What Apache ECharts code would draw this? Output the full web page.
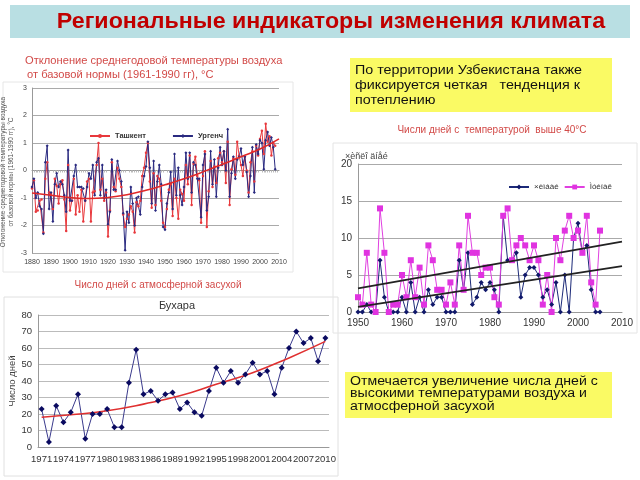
<!DOCTYPE html>
<html><head><meta charset="utf-8">
<script src="https://cdn.jsdelivr.net/npm/echarts@6/dist/echarts.min.js"></script>
<style>html,body{margin:0;padding:0;background:#fff}#c{width:640px;height:480px}</style>
</head><body><div id="c"></div>
<script>
// ---- Chart 1: temperature anomaly (1880-2008)
const tempStartYear = 1880;
const tashkent = [-0.65,-0.35,-1.5,-1.45,-1.1,-1.05,-2.25,-0.3,0.3,-0.8,
 -0.85,-1.4,-0.3,-0.55,-1.2,-0.5,-0.35,-1.05,-2.2,0.2,
 -1.45,-1.1,-0.3,-1.6,-0.9,-1.5,-0.7,-1.85,-1.1,-0.4,
 -0.3,-1.85,-0.8,-0.75,0.2,1.0,-0.7,-0.3,-1.1,-0.8,
 -2.4,-1.45,0.3,-0.6,-0.75,0.1,-0.3,-0.6,-1.6,-2.05,
 -1.75,-1.6,-1.3,-1.5,-2.25,-1.15,-1.3,-1.1,-0.2,0.1,
 0.65,1.0,-0.4,-1.35,-0.1,-1.25,-0.2,-0.3,-1.1,-1.9,
 -2.05,-1.4,-0.7,-0.5,-1.65,-0.3,-1.0,-1.75,-0.7,-0.85,
 -1.1,0.2,-0.5,0.55,-1.25,0.25,0.5,-0.2,-0.35,-1.9,
 -0.2,0.7,-2.05,-0.75,0.35,-0.6,0.15,-0.45,0.45,0.65,
 0.3,0.7,-0.45,1.05,-1.25,0.05,0.45,-0.15,1.05,0.55,
 0.2,-0.2,0.5,0.0,-0.8,0.3,0.7,-0.4,0.9,0.55,
 1.15,1.45,0.6,1.7,1.05,1.25,0.55,1.0,0.9];
const urgench = [-0.6,-0.3,-1.0,-0.8,-1.3,-1.4,-2.3,0.3,0.9,-1.4,
 -0.8,-1.85,-0.5,-0.1,-0.6,-0.4,-0.5,-0.9,-1.5,0.75,
 -1.1,-1.1,-0.2,0.2,-0.6,-0.6,-0.6,-0.65,-1.1,-0.6,
 -0.1,-0.3,0.2,-0.9,0.3,0.45,-0.9,0.2,-1.0,-0.7,
 -1.95,-1.5,0.4,-0.7,-0.7,0.35,0.0,-0.4,-1.55,-2.9,
 -1.5,-1.9,-0.6,-1.2,-2.0,-1.0,-0.95,-1.6,-0.6,-0.2,
 0.15,1.05,0.1,-1.2,0.35,-1.45,-0.4,0.2,-0.5,-2.05,
 -2.15,-1.2,-0.8,-0.05,-1.4,0.6,-0.9,0.1,-0.9,-1.25,
 -0.6,0.65,-0.3,0.65,-0.8,0.3,0.2,-0.3,-0.3,-1.7,
 0.2,0.6,-1.45,-0.95,0.7,-0.5,0.4,-0.95,0.1,0.85,
 0.2,0.7,0.0,1.5,-0.95,-0.1,0.5,-0.3,0.4,0.5,
 0.8,0.2,0.5,-0.05,-0.95,-0.2,0.85,-0.8,0.95,0.6,
 1.1,1.0,0.05,1.1,1.4,0.9,1.2,0.85,0.05];
const tempTrendYears = [1880,1890,1900,1910,1920,1930,1940,1950,1960,1970,1980,1990,2000,2010];
const tempTrendVals  = [-0.82,-0.9,-0.98,-1.02,-0.98,-0.88,-0.72,-0.52,-0.3,-0.05,0.22,0.5,0.78,1.15];

// ---- Chart 2: Bukhara, number of drought days
const bukharaYears = ['1971','1972','1973','1974','1975','1976','1977','1978','1979','1980','1981','1982','1983','1984','1985','1986','1987','1988','1989','1990','1991','1992','1993','1994','1995','1996','1997','1998','1999','2000','2001','2002','2003','2004','2005','2006','2007','2008','2009','2010'];
const bukharaDays = [23,3,25,15,21,32,5,20,20,23,12,12,39,59,32,34,28,32,33,23,27,21,19,34,48,39,46,39,44,51,44,46,32,48,60,70,63,66,52,66];
const bukharaTrendIdx = [0,4,9,14,19,24,29,34,39];
const bukharaTrendVals = [18,19.5,22,26,31,38,45,54,64];

// ---- Chart 3: days above 40°C (1950-2005)
const hotStartYear = 1950;
const chimbay = [0,0,1,0,0,7,2,0,0,0,2,0,4,0,2,0,3,1,2,2,0,0,0,7,3,8,1,2,4,3,4,3,0,13,7,7,8,2,5,6,6,5,2,3,1,4,0,5,0,10,12,8,9,3,0,0];
const muynak  = [2,1,8,1,0,14,8,0,1,1,5,2,7,2,6,1,9,7,3,3,1,4,1,9,3,13,8,8,5,6,6,2,1,13,14,7,9,10,9,7,9,7,1,5,0,10,7,11,13,10,11,8,13,4,1,11];
const hotTrendYears = [1950,2010];
const chimbayTrend = [0.7,6.2];
const muynakTrend = [3.2,9.5];

const pairs = (start, arr) => arr.map((v,i)=>[start+i, v]);
const zip = (xs, ys) => xs.map((x,i)=>[x, ys[i]]);
const plain = v => String(v);

const chart = echarts.init(document.getElementById('c'), null, {renderer:'canvas'});
const F = 'Arial, "Liberation Sans", sans-serif';
const option = {
  animation:false,
  textStyle:{fontFamily:F},
  grid:[
    {left:32, top:88, width:247, height:165},
    {left:38, top:315, width:291, height:132},
    {left:358, top:164, width:264, height:148}
  ],
  xAxis:[
    {gridIndex:0, type:'value', min:1880, max:2010, interval:10,
     axisLine:{lineStyle:{color:'#999'}}, axisTick:{show:false},
     minorTick:{show:true, splitNumber:10, length:2, lineStyle:{color:'#bbb'}},
     axisLabel:{fontSize:7, color:'#444', margin:6, formatter:plain}, splitLine:{show:false}},
    {gridIndex:1, type:'category', data:bukharaYears, boundaryGap:true,
     axisLine:{lineStyle:{color:'#999'}}, axisTick:{show:false},
     axisLabel:{interval:2, fontSize:9.5, color:'#333', margin:7}},
    {gridIndex:2, type:'value', min:1950, max:2010, interval:10,
     axisLine:{lineStyle:{color:'#999'}}, axisTick:{show:false},
     axisLabel:{fontSize:10, color:'#333', margin:6, formatter:plain}, splitLine:{show:false}}
  ],
  yAxis:[
    {gridIndex:0, type:'value', min:-3, max:3, interval:1,
     axisLine:{show:true, lineStyle:{color:'#999'}}, axisTick:{show:false},
     axisLabel:{fontSize:7, color:'#444', margin:5},
     splitLine:{lineStyle:{color:'#aaa', width:1}}},
    {gridIndex:1, type:'value', min:0, max:80, interval:10,
     name:'Число дней', nameLocation:'middle', nameGap:21, nameRotate:90,
     nameTextStyle:{fontSize:9.5, color:'#444'},
     axisLine:{show:true, lineStyle:{color:'#999'}}, axisTick:{show:false},
     axisLabel:{fontSize:9.5, color:'#333', margin:6},
     splitLine:{lineStyle:{color:'#bbb'}}},
    {gridIndex:2, type:'value', min:0, max:20, interval:5,
     axisLine:{show:true, lineStyle:{color:'#999'}}, axisTick:{show:false},
     axisLabel:{fontSize:10, color:'#333', margin:6},
     splitLine:{lineStyle:{color:'#aaa'}}}
  ],
  legend:[
    {data:['Ташкент','Ургенч'], left:84, top:127, itemGap:26, itemWidth:20, itemHeight:5,
     textStyle:{fontSize:7.5, fontWeight:'bold', color:'#333'}},
    {data:['×èìáàé','Ìóéíàê'], left:503, top:178, itemGap:5, itemWidth:20, itemHeight:6,
     textStyle:{fontSize:8, color:'#333'}}
  ],
  series:[
    {name:'Ташкент', type:'line', xAxisIndex:0, yAxisIndex:0, data:pairs(tempStartYear, tashkent),
     symbol:'circle', symbolSize:2.5, lineStyle:{color:'#e8383c', width:1}, itemStyle:{color:'#e8383c'}},
    {name:'Ургенч', type:'line', xAxisIndex:0, yAxisIndex:0, data:pairs(tempStartYear, urgench),
     symbol:'diamond', symbolSize:3, lineStyle:{color:'#2a2a80', width:1}, itemStyle:{color:'#2a2a80'}},
    {name:'trend1', type:'line', xAxisIndex:0, yAxisIndex:0, data:zip(tempTrendYears, tempTrendVals),
     smooth:true, symbol:'none', lineStyle:{color:'#e02828', width:1.6}, z:5},

    {name:'Бухара', type:'line', xAxisIndex:1, yAxisIndex:1, data:bukharaDays, showAllSymbol:true,
     symbol:'diamond', symbolSize:6, lineStyle:{color:'#3a3a8c', width:1}, itemStyle:{color:'#0a0a60'}},
    {name:'trend2', type:'line', xAxisIndex:1, yAxisIndex:1, data:zip(bukharaTrendIdx, bukharaTrendVals),
     smooth:true, symbol:'none', lineStyle:{color:'#e03030', width:1.6}},

    {name:'×èìáàé', type:'line', xAxisIndex:2, yAxisIndex:2, data:pairs(hotStartYear, chimbay), showAllSymbol:true,
     symbol:'diamond', symbolSize:5, lineStyle:{color:'#1c2a78', width:1}, itemStyle:{color:'#10186a'}},
    {name:'Ìóéíàê', type:'line', xAxisIndex:2, yAxisIndex:2, data:pairs(hotStartYear, muynak), showAllSymbol:true,
     symbol:'rect', symbolSize:6, lineStyle:{color:'#e040e0', width:1}, itemStyle:{color:'#e033e0'}},
    {name:'trend3a', type:'line', xAxisIndex:2, yAxisIndex:2, data:zip(hotTrendYears, muynakTrend),
     symbol:'none', lineStyle:{color:'#222', width:1.8}, z:5},
    {name:'trend3b', type:'line', xAxisIndex:2, yAxisIndex:2, data:zip(hotTrendYears, chimbayTrend),
     symbol:'none', lineStyle:{color:'#222', width:1.8}, z:5}
  ],
  graphic:[
    {type:'rect', shape:{x:10, y:5, width:620, height:33}, style:{fill:'#b9dfe3'}, z:-10},
    {type:'text', x:331, y:22, scaleX:1.08, style:{x:0, y:0, text:'Региональные индикаторы изменения климата',
      font:'bold 21.5px '+F, fill:'#c00000', textAlign:'center', textVerticalAlign:'middle'}},
    {type:'text', x:25, y:61, scaleX:1.06, style:{x:0, y:0, text:'Отклонение среднегодовой температуры воздуха',
      font:'10.5px '+F, fill:'#d24a48', textAlign:'left', textVerticalAlign:'middle'}},
    {type:'text', x:27, y:75, scaleX:1.06, style:{x:0, y:0, text:'от базовой нормы (1961-1990 гг), °С',
      font:'10.5px '+F, fill:'#d24a48', textAlign:'left', textVerticalAlign:'middle'}},
    {type:'rect', shape:{x:3, y:82, width:290, height:190}, style:{fill:'none', stroke:'#e6e6e6'}, z:-10},
    {type:'text', x:7, y:172, rotation:Math.PI/2, style:{x:0, y:0,
      text:'Отклонение среднегодовой температуры воздуха\nот базовой нормы (1961-1990 гг), °С',
      font:'6.5px '+F, fill:'#555', textAlign:'center', textVerticalAlign:'middle', lineHeight:8}},
    {type:'text', style:{x:158, y:285, text:'Число дней с атмосферной засухой',
      font:'10px '+F, fill:'#d24a48', textAlign:'center', textVerticalAlign:'middle'}},
    {type:'rect', shape:{x:4, y:297, width:334, height:179}, style:{fill:'none', stroke:'#e0e0e0'}, z:-10},
    {type:'text', style:{x:177, y:306, text:'Бухара', font:'11px '+F, fill:'#333',
      textAlign:'center', textVerticalAlign:'middle'}},
    {type:'rect', shape:{x:350, y:58, width:262, height:54}, style:{fill:'#fafa64'}, z:-10},
    {type:'text', x:355, y:85, scaleX:1.1, style:{x:0, y:0, text:'По территории Узбекистана также\nфиксируется четкая   тенденция к\nпотеплению',
      font:'13px '+F, fill:'#111', textAlign:'left', textVerticalAlign:'middle', lineHeight:15}},
    {type:'text', style:{x:492, y:130, text:'Числи дней с  температурой  выше 40°С',
      font:'10px '+F, fill:'#d24a48', textAlign:'center', textVerticalAlign:'middle'}},
    {type:'rect', shape:{x:333, y:143, width:304, height:190}, style:{fill:'none', stroke:'#e4e4e4'}, z:-10},
    {type:'text', style:{x:345, y:157, text:'×èñëî äíåé', font:'9px '+F, fill:'#444',
      textAlign:'left', textVerticalAlign:'middle'}},
    {type:'rect', shape:{x:345, y:372, width:267, height:46}, style:{fill:'#fafa64'}, z:-10},
    {type:'text', x:350, y:394, scaleX:1.13, style:{x:0, y:0, text:'Отмечается увеличение числа дней с\nвысокими температурами воздуха и\nатмосферной засухой',
      font:'12.5px '+F, fill:'#111', textAlign:'left', textVerticalAlign:'middle', lineHeight:12.5}}
  ]
};
chart.setOption(option);
</script></body></html>
